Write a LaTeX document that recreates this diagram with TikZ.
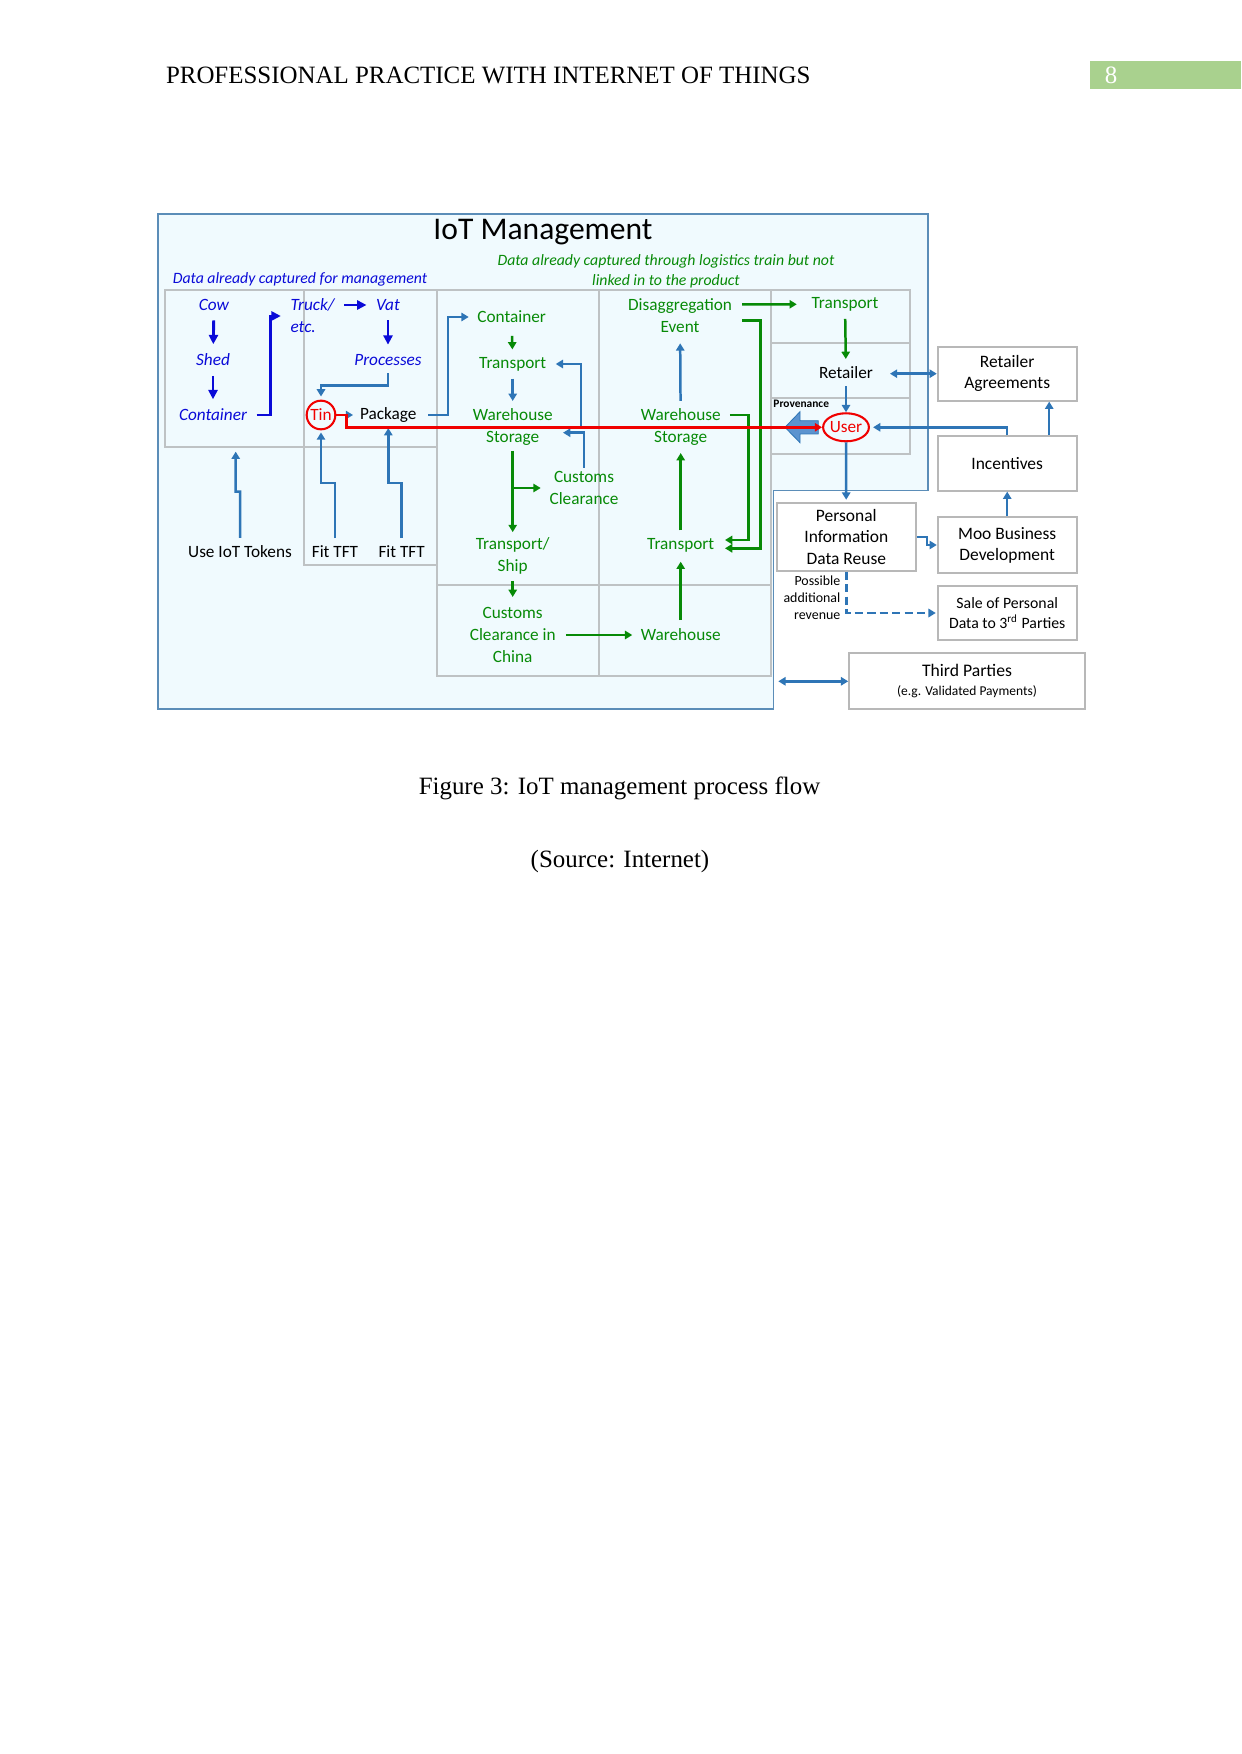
\documentclass[tikz,border=0pt]{standalone}
\usepackage{fontspec}
\setmainfont{Liberation Serif}
\newfontfamily\calfont{Carlito}
\usetikzlibrary{arrows.meta,calc,shapes.geometric}

\definecolor{panelblue}{HTML}{F0FAFE}
\definecolor{paneledge}{HTML}{5B8DB8}
\definecolor{gridgrey}{HTML}{BEC2C4}
\definecolor{boxgrey}{HTML}{B8B8B8}
\definecolor{deepblue}{HTML}{0A0AD8}
\definecolor{steel}{HTML}{2E75B6}
\definecolor{dgreen}{HTML}{078A07}
\definecolor{tred}{HTML}{F00000}
\definecolor{provblue}{HTML}{5B93CF}
\definecolor{pagegreen}{HTML}{A9D18E}

\newcommand{\dsz}{\fontsize{8.3}{10.5}\selectfont}

\begin{document}
\begin{tikzpicture}[x=0.16922mm, y=-0.16922mm,
    txt/.style={font=\calfont\dsz, inner sep=1.5pt, align=center},
    bluetxt/.style={txt, font=\calfont\itshape\dsz, text=deepblue},
    greentxt/.style={txt, text=dgreen},
    greybox/.style={draw=boxgrey, line width=0.9pt, fill=white, align=center,
        font=\calfont\fontsize{8.4}{10.2}\selectfont, inner sep=0pt},
    thickarr/.style={draw=deepblue, line width=1.4pt, -{Triangle[length=4.5pt,width=4.4pt]},
        shorten <=3pt, shorten >=3pt},
    bluearr/.style={draw=steel, line width=1.2pt, -{Triangle[length=3.5pt,width=4pt]},
        shorten <=2pt, shorten >=2pt},
    greenarr/.style={draw=dgreen, line width=1.2pt, -{Triangle[length=3.5pt,width=4pt]},
        shorten <=2pt, shorten >=2pt}]
    \useasboundingbox (0,0) rectangle (1241,1754);
    \fill[white] (0,0) rectangle (1241,1754);

    % page header and caption
    \node[anchor=west, inner sep=0pt, font=\fontsize{12}{14}\selectfont] (head) at (165.6,75)
        {PROFESSIONAL PRACTICE WITH INTERNET OF THINGS};
    \fill[pagegreen] (1090,61.5) rectangle (1241,89.5);
    \node[inner sep=0pt, text=white, font=\fontsize{12}{14}\selectfont] (pagenum) at (1111,75) {8};
    \node[font=\fontsize{12}{14}\selectfont] (caption) at (619.5,788.3) {Figure 3: IoT management process flow};
    \node[font=\fontsize{12}{14}\selectfont] (source) at (620,861.7) {(Source: Internet)};

    % panel and grid
    \draw[paneledge, fill=panelblue, line width=0.6pt] (158,214) -- (928,214) -- (928,490.7)
        -- (773.3,490.7) -- (773.3,709) -- (158,709) -- cycle;
    \draw[gridgrey, line width=0.9pt] (165,290) rectangle (304,446.7) (304,290) rectangle (436.7,446.7)
        (304,446.7) rectangle (436.7,565);
    \draw[gridgrey, line width=0.9pt] (436.7,290) rectangle (599.3,585) (599.3,290) rectangle (770.7,585)
        (436.7,585) rectangle (599.3,676) (599.3,585) rectangle (770.7,676);
    \draw[gridgrey, line width=0.9pt] (770.7,290) rectangle (910,343.3) (770.7,343.3) rectangle (910,398.3)
        (770.7,398.3) rectangle (910,454.3);

    \node[font=\calfont\fontsize{15.2}{17}\selectfont] (title) at (543,232) {IoT Management};
    \node[txt, font=\calfont\itshape\fontsize{7.6}{9.6}\selectfont, text=deepblue] (capL) at (300,279)
        {Data already captured for management};
    \node[txt, font=\calfont\itshape\fontsize{7.6}{9.6}\selectfont, text=dgreen] (capR) at (666,271)
        {Data already captured through logistics train but not\\linked in to the product};

    % farm side
    \node[bluetxt] (cow) at (214,305) {Cow};
    \node[bluetxt] (shed) at (213,360) {Shed};
    \node[bluetxt] (contA) at (213,415) {Container};
    \node[bluetxt, anchor=west] (truck) at (287,305) {Truck/};
    \node[bluetxt, anchor=west] (etc) at (287,327) {etc.};
    \node[bluetxt] (vat) at (388,305) {Vat};
    \node[bluetxt] (proc) at (388,360) {Processes};
    \node[txt, circle, draw=tred, line width=1pt, text=tred, minimum size=13.8pt, inner sep=0pt] (tin) at (321,415) {Tin};
    \node[txt] (pkg) at (388.3,415) {Package};
    \node[txt] (tok) at (240,551.7) {Use IoT Tokens};
    \node[txt] (fitA) at (335,551.7) {Fit TFT};
    \node[txt] (fitB) at (401.7,551.7) {Fit TFT};
    \coordinate (tokTip) at (235.7,447.5);

    % logistics
    \node[greentxt] (contB) at (511.7,317) {Container};
    \node[greentxt] (trA) at (512.7,364) {Transport};
    \node[greentxt] (whA) at (512.7,427) {Warehouse\\Storage};
    \node[greentxt] (ccA) at (584,488) {Customs\\Clearance};
    \node[greentxt] (ship) at (512.7,556) {Transport/\\Ship};
    \node[greentxt] (ccB) at (512.7,635) {Customs\\Clearance in\\China};
    \node[greentxt] (whC) at (680.7,635) {Warehouse};
    \node[greentxt] (trB) at (680.7,545) {Transport};
    \node[greentxt] (whB) at (680.7,427) {Warehouse\\Storage};
    \node[greentxt] (dis) at (680,316) {Disaggregation\\Event};

    % retail side
    \node[greentxt] (trC) at (845,304.3) {Transport};
    \node[txt] (ret) at (846,372.7) {Retailer};
    \node[txt, ellipse, draw=tred, line width=1pt, text=tred, minimum width=21.6pt, minimum height=13.5pt,
        inner sep=0pt] (user) at (846,427.3) {User};
    \node[anchor=west, inner sep=0pt, font=\calfont\bfseries\fontsize{5.5}{6}\selectfont] (prov) at (773,404) {Provenance};
    \node[greybox, minimum width=66.9pt, minimum height=26pt] (ragr) at (1007.2,373.7) {Retailer\\Agreements};
    \node[greybox, minimum width=66.9pt, minimum height=26.3pt] (inc) at (1007.2,463.4) {Incentives};
    \node[greybox, minimum width=66.9pt, minimum height=26.7pt] (moo) at (1007.2,545) {Moo Business\\Development};
    \node[greybox, minimum width=66.9pt, minimum height=26pt, font=\calfont\fontsize{7.6}{9.6}\selectfont] (sale) at (1007.2,613)
        {Sale of Personal\\Data to 3\textsuperscript{rd} Parties};
    \node[greybox, minimum width=67pt, minimum height=32.4pt] (pi) at (846.3,537) {Personal\\Information\\Data Reuse};
    \node[greybox, minimum width=113.5pt, minimum height=26.9pt] (tp) at (967,681.3)
        {\fontsize{8.5}{9.5}\selectfont Third Parties\\[-1pt]\fontsize{6.5}{7.5}\selectfont (e.g. Validated Payments)};
    \node[anchor=east, align=right, inner sep=0pt, font=\calfont\fontsize{6.7}{8.2}\selectfont] (rev) at (840.7,598)
        {Possible\\additional\\revenue};
    \coordinate (tpEnd) at (778.3,681.3);

    % farm arrows
    \draw[thickarr] (cow) -- (shed);
    \draw[thickarr] (shed) -- (contA);
    \draw[thickarr] (contA.east) -- ++(20.2,0) |- ($(truck.west)!.5!(etc.west)$);
    \draw[thickarr] (truck) -- (vat);
    \draw[thickarr] (vat) -- (proc);
    \draw[bluearr, shorten >=1.5pt] (proc.south) -- ++(0,16.3) -| (tin.north);
    \draw[bluearr, shorten <=5pt, shorten >=1.7pt] (tin.east) -- (pkg.west);
    \draw[bluearr, shorten <=3.9pt, shorten >=2.5pt] (pkg.east) -- ++(28.2,0) |- (contB.west);
    \draw[bluearr] (tok.north) -- ++(0,-50.4) -- ++(-4.3,0) -- (tokTip);
    \draw[bluearr, shorten >=1pt] (fitA.north) -- ++(0,-59.4) -| (tin.south);
    \draw[bluearr, shorten >=1pt] (fitB.north) -- ++(0,-59.4) -| (pkg.south);

    % logistics arrows
    \draw[greenarr, shorten <=4.5pt] (contB) -- (trA);
    \draw[bluearr] (trA) -- (whA);
    \draw[bluearr, shorten <=3pt, shorten >=2.9pt] (whA.east) -- ++(25,0) |- (trA.east);
    \draw[bluearr, shorten <=0pt, shorten >=3.3pt] (ccA.north) |- ($(whA.east)+(0,5.7)$);
    \draw[greenarr, shorten <=1pt, shorten >=1pt] (whA) -- (ship);
    \draw[greenarr, shorten <=0pt, shorten >=2.6pt] (whA.south |- ccA.west) -- (ccA.west);
    \draw[greenarr, shorten <=1.5pt, shorten >=3.4pt] (ship) -- (ccB);
    \draw[greenarr, shorten <=3.2pt, shorten >=2.4pt] (ccB.east) -- (whC.west);
    \draw[greenarr, shorten <=2.6pt, shorten >=3pt] (whC) -- (trB);
    \draw[greenarr] (trB) -- (whB);
    \draw[bluearr, shorten >=3.3pt] (whB) -- (dis);
    \draw[greenarr, shorten <=3.2pt, shorten >=5.4pt] ($(dis.east)+(0,-11.7)$) -- (trC.west);
    \draw[greenarr, shorten <=3.2pt, shorten >=3.5pt] ($(dis.east)+(0,4.7)$) -- ++(25,0) |- ($(trB.east)+(0,3.3)$);
    \draw[greenarr, shorten <=2.8pt, shorten >=3.5pt] ($(whB.east)+(0,-12)$) -- ++(24.4,0) |- ($(trB.east)+(0,-5)$);

    % retail arrows
    \draw[greenarr] (trC) -- (ret);
    \draw[bluearr, shorten >=0pt] (ret) -- (user);
    \draw[bluearr, {Triangle[length=3.5pt,width=4pt]}-{Triangle[length=3.5pt,width=4pt]},
        shorten <=6.5pt, shorten >=0pt] (ret.east |- ragr.west) -- (ragr.west);
    \fill[provblue, draw=steel, line width=0.4pt] (785,427.3) -- (800,411.7) -- (800,420.7) -- (818.3,420.7)
        -- (818.3,434) -- (800,434) -- (800,442.7) -- cycle;
    \draw[tred, line width=1.4pt, -{Triangle[length=3.5pt,width=4pt]}] (tin.east) -- ++(10.4,0) |- (user.west);
    \draw[bluearr, shorten <=0pt, shorten >=1.5pt] (inc.north) |- (user.east);
    \draw[bluearr, shorten <=0pt, shorten >=0pt] ($(inc.north)+(42,0)$) -- ($(ragr.south)+(42,0)$);
    \draw[bluearr, shorten <=0pt, shorten >=1.3pt] (user) -- (pi);
    \draw[bluearr, shorten <=0pt, shorten >=0pt] (pi.east) -- ++(10,0) |- (moo.west);
    \draw[bluearr, shorten <=0pt, shorten >=0pt] (moo) -- (inc);
    \draw[bluearr, dashed, dash pattern=on 4pt off 2pt, shorten <=0pt, shorten >=0.5pt] (pi.south) |- (sale.west);
    \draw[bluearr, {Triangle[length=3.5pt,width=4pt]}-{Triangle[length=3.5pt,width=4pt]},
        shorten <=0pt, shorten >=0pt] (tpEnd) -- (tp.west);
\end{tikzpicture}
\end{document}
